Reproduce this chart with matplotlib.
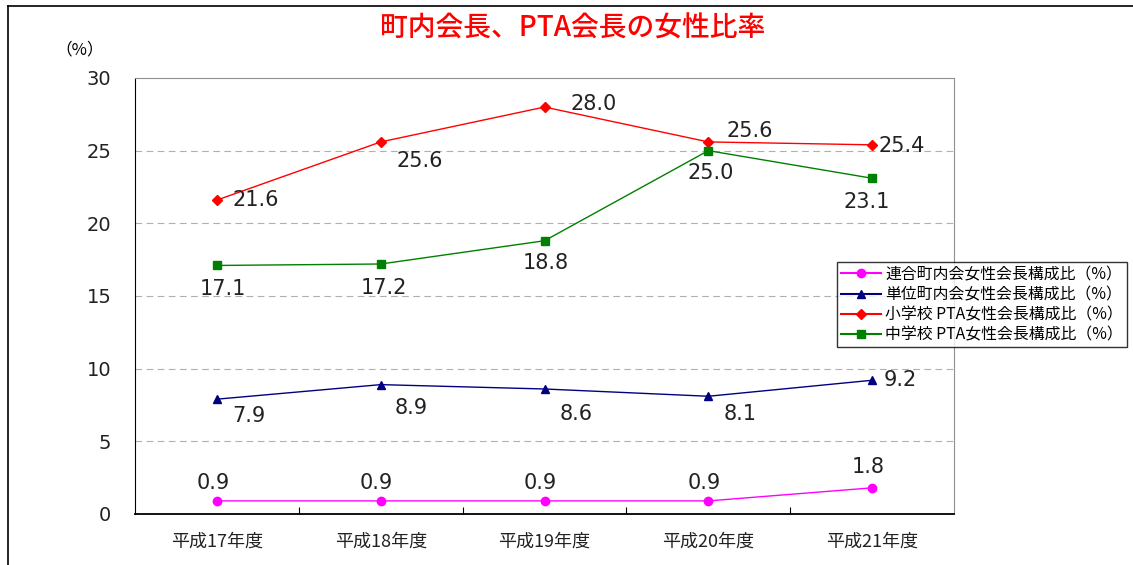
import matplotlib.pyplot as plt
from matplotlib.lines import Line2D

plt.rcParams['font.family'] = ['Noto Sans CJK JP', 'DejaVu Sans']

years = ['平成17年度', '平成18年度', '平成19年度', '平成20年度', '平成21年度']
rengo = [0.9, 0.9, 0.9, 0.9, 1.8]
tani = [7.9, 8.9, 8.6, 8.1, 9.2]
shogakko = [21.6, 25.6, 28.0, 25.6, 25.4]
chugakko = [17.1, 17.2, 18.8, 25.0, 23.1]

names = ['連合町内会女性会長構成比（%）', '単位町内会女性会長構成比（%）',
         '小学校 PTA女性会長構成比（%）', '中学校 PTA女性会長構成比（%）']

# ラベルのずらし量（ポイント）
off_rengo = [(-3, 13)] * 4 + [(-3, 15)]
off_tani = [(23, -12), (22, -17), (23, -18), (23, -13), (20, 0)]
off_sho = [(28, 0), (28, -14), (35, 2), (30, 8), (21, -1)]
off_chu = [(4, -17), (2, -17), (1, -16), (2, -16), (-4, -17)]

fig = plt.figure(figsize=(11.33, 5.65), dpi=100)
ax = fig.add_axes([0.1192, 0.0903, 0.7228, 0.7717])

x = range(len(years))
series = [
    (rengo, '#ff00ff', 'o', off_rengo),
    (tani, '#000080', '^', off_tani),
    (shogakko, '#ff0000', 'D', off_sho),
    (chugakko, '#008000', 's', off_chu),
]
handles = []
for (vals, col, mk, offs), name in zip(series, names):
    ms = 5 if mk == 'D' else 6
    ax.plot(x, vals, color=col, marker=mk, markersize=ms, linewidth=1)
    for i, v in enumerate(vals):
        ax.annotate(f'{v:.1f}', (i, v), xytext=offs[i], textcoords='offset points',
                    ha='center', va='center', fontsize=15, color='#222222',
                    family='DejaVu Sans')
    handles.append(Line2D([], [], color=col, marker=mk, markersize=ms, linewidth=1.5))

ax.set_xlim(-0.5, 4.5)
ax.set_ylim(0, 30)
ax.set_yticks(range(0, 31, 5))
ax.set_xticks([i + 0.5 for i in range(4)], minor=False)
ax.set_xticklabels([])
ax.tick_params(axis='x', length=5, direction='in')
ax.tick_params(axis='y', length=0, labelsize=14, pad=17)
for lb in ax.get_yticklabels():
    lb.set_family('DejaVu Sans')
    lb.set_color('#222222')
for i, y in enumerate(years):
    ax.text(i, -1.3, y, ha='center', va='top', fontsize=13, color='#222222')

for yv in range(5, 30, 5):
    ax.axhline(yv, color='#b0b0b0', linestyle=(0, (6, 4)), linewidth=0.8, zorder=0)
ax.spines['top'].set_color('#909090')
ax.spines['right'].set_color('#909090')
ax.spines['left'].set_color('black')
ax.spines['bottom'].set_color('black')
ax.spines['bottom'].set_linewidth(1.3)

leg = fig.legend(handles, names, loc='upper left', bbox_to_anchor=(837 / 1133, 1 - 262 / 565),
                 fontsize=11.4, frameon=True, fancybox=False, edgecolor='black',
                 borderpad=0.25, labelspacing=0.2, handlelength=2.5, handletextpad=0.3,
                 borderaxespad=0)
leg.get_frame().set_linewidth(1)

fig.text(573 / 1133, 1 - 28 / 565, '町内会長、PTA会長の女性比率', color='red',
         fontsize=20, fontweight='medium', ha='center', va='center')
fig.text(80 / 1133, 1 - 50 / 565, '（%）', fontsize=12, ha='center', va='center')

# 外枠
fig.add_artist(Line2D([8 / 1133, 1], [1 - 6 / 565] * 2, color='black', linewidth=1.2))
fig.add_artist(Line2D([8 / 1133] * 2, [0, 1 - 6 / 565], color='black', linewidth=1.2))

fig.savefig('out.png', dpi=100)
